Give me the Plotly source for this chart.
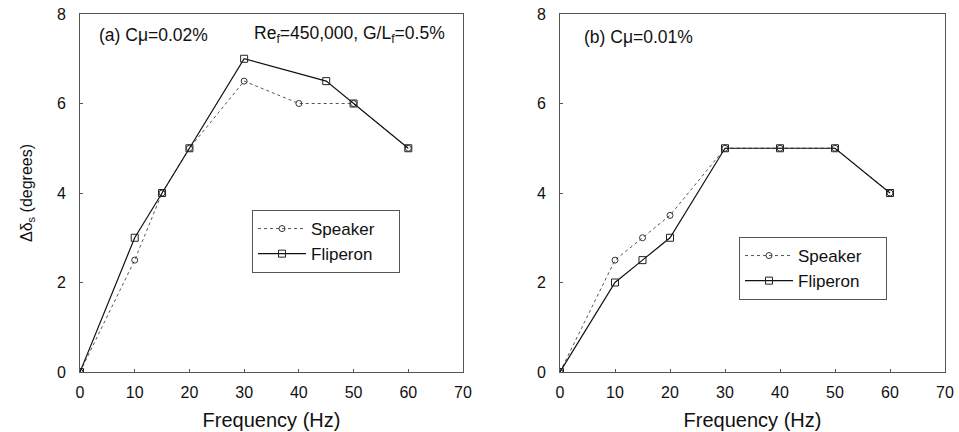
import plotly.graph_objects as go

freq_a_spk = [0, 10, 15, 20, 30, 40, 50, 60]
spk_a = [0, 2.5, 4, 5, 6.5, 6, 6, 5]
freq_a_flp = [0, 10, 15, 20, 30, 45, 50, 60]
flp_a = [0, 3, 4, 5, 7, 6.5, 6, 5]

freq_b = [0, 10, 15, 20, 30, 40, 50, 60]
spk_b = [0, 2.5, 3, 3.5, 5, 5, 5, 4]
flp_b = [0, 2, 2.5, 3, 5, 5, 5, 4]

x_ticks = [0, 10, 20, 30, 40, 50, 60, 70]
y_ticks = [0, 2, 4, 6, 8]

FONT = "Liberation Sans, Arial, sans-serif"
fig = go.Figure()

def spk_trace(x, y, xa, ya, leg):
    return go.Scatter(x=x, y=y, xaxis=xa, yaxis=ya, name="Speaker\u00a0\u00a0\u00a0\u00a0", legend=leg,
                      mode="lines+markers",
                      line=dict(color="#555555", width=1, dash="dot"),
                      marker=dict(symbol="circle-open", size=6, color="#333333", line=dict(width=1)))

def flp_trace(x, y, xa, ya, leg):
    return go.Scatter(x=x, y=y, xaxis=xa, yaxis=ya, name="Fliperon", legend=leg,
                      mode="lines+markers",
                      line=dict(color="#111111", width=1.2),
                      marker=dict(symbol="square-open", size=7, color="#222222", line=dict(width=1)))

fig.add_trace(spk_trace(freq_a_spk, spk_a, "x", "y", "legend"))
fig.add_trace(flp_trace(freq_a_flp, flp_a, "x", "y", "legend"))
fig.add_trace(spk_trace(freq_b, spk_b, "x2", "y2", "legend2"))
fig.add_trace(flp_trace(freq_b, flp_b, "x2", "y2", "legend2"))

axis_common = dict(showgrid=False, zeroline=False, showline=True, mirror=True,
                   linecolor="#555555", linewidth=1, ticks="inside", ticklen=3,
                   tickcolor="#555555", automargin=False,
                   tickfont=dict(family=FONT, size=16, color="#111111"))

xt = dict(text="Frequency (Hz)", font=dict(size=20), standoff=12)
ydom = [1 - 372 / 432, 1 - 14 / 432]
leg_common = dict(xanchor="left", yanchor="top", bordercolor="#555555", borderwidth=1,
                  bgcolor="white", font=dict(family=FONT, size=17), tracegroupgap=2,
                  itemwidth=48)
fig.update_layout(
    width=959, height=432, margin=dict(l=0, r=0, t=0, b=0),
    paper_bgcolor="white", plot_bgcolor="white",
    font=dict(family=FONT, color="#111111"),
    xaxis=dict(domain=[80 / 959, 463 / 959], range=[0, 70], tickvals=x_ticks,
               ticklabelstandoff=6, title=xt, **axis_common),
    yaxis=dict(domain=ydom, range=[0, 8], tickvals=y_ticks, ticklabelstandoff=10,
               title=dict(text="Δδ<sub>s</sub> (degrees)", font=dict(size=16), standoff=20), **axis_common),
    xaxis2=dict(domain=[560 / 959, 945 / 959], range=[0, 70], tickvals=x_ticks, anchor="y2",
                ticklabelstandoff=6, title=xt, **axis_common),
    yaxis2=dict(domain=ydom, range=[0, 8], tickvals=y_ticks, anchor="x2", ticklabelstandoff=10,
                **axis_common),
    legend=dict(x=252 / 959, y=1 - 210 / 432, **leg_common),
    legend2=dict(x=739 / 959, y=1 - 237 / 432, **leg_common),
    annotations=[
        dict(text="(a) Cμ=0.02%", xref="paper", yref="paper", x=97 / 959, y=1 - 35 / 432,
             xanchor="left", yanchor="middle", showarrow=False, font=dict(size=17.5)),
        dict(text="Re<sub>f</sub>=450,000, G/L<sub>f</sub>=0.5%", xref="paper", yref="paper",
             x=447 / 959, y=1 - 35 / 432, xanchor="right", yanchor="middle", showarrow=False,
             font=dict(size=17.5)),
        dict(text="(b) Cμ=0.01%", xref="paper", yref="paper", x=582 / 959, y=1 - 37 / 432,
             xanchor="left", yanchor="middle", showarrow=False, font=dict(size=17.5)),
    ],
)

fig.write_html("out.html")
